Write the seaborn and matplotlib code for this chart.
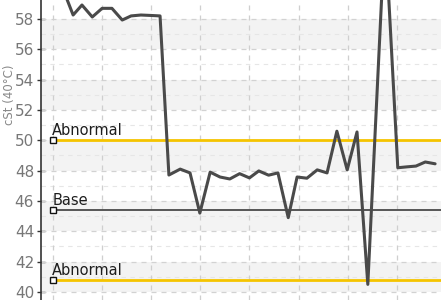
import matplotlib
matplotlib.use("Agg")
import matplotlib.pyplot as plt
import seaborn as sns
import pandas as pd
import numpy as np

# ---- data ----
sample_pos = [0.20, 0.41, 0.59, 0.80, 1.00, 1.20, 1.41, 1.59, 1.79, 2.00,
              2.18, 2.36, 2.59, 2.79, 2.99, 3.20, 3.40, 3.60, 3.80, 4.00,
              4.19, 4.39, 4.58, 4.79, 4.97, 5.17, 5.38, 5.58, 5.78, 5.99,
              6.19, 6.41, 6.76, 7.02, 7.21, 7.39, 7.58, 7.78]
viscosity = [60.0, 58.26, 58.92, 58.13, 58.70, 58.70, 57.93, 58.20, 58.26, 58.23,
             58.20, 47.71, 48.10, 47.85, 45.20, 47.90, 47.58, 47.45, 47.80, 47.52,
             47.98, 47.70, 47.85, 44.90, 47.58, 47.50, 48.05, 47.85, 50.60, 48.05,
             50.55, 40.50, 64.00, 48.19, 48.25, 48.30, 48.57, 48.45]
ref_names = ["Abnormal", "Base", "Abnormal"]
ref_values = [50.0, 45.4, 40.8]
ref_colors = ["#f5c400", "#555555", "#f5c400"]
y_ticks = [40, 42, 44, 46, 48, 50, 52, 54, 56, 58]
y_label = "cSt (40°C)"

df = pd.DataFrame({"pos": sample_pos, "cSt": viscosity})

sns.set_theme(style="white")
plt.rcParams["font.family"] = ["Liberation Sans Narrow", "DejaVu Sans"]

fig = plt.figure(figsize=(4.41, 3.0), dpi=100)
ax = fig.add_axes([41 / 441, 0.0, 400 / 441, 1.0])

ylo, yhi = 39.47, 59.25
ax.set_ylim(ylo, yhi)
ax.set_xlim(-0.244, 7.90)

# alternating bands
for lo in [40, 44, 48, 52, 56]:
    ax.axhspan(lo, lo + 2, color="#f3f3f3", zorder=0, lw=0)
# minor horizontal grid
for v in range(41, 59, 2):
    ax.axhline(v, color="#e6e6e6", lw=0.8, ls=(0, (4, 4)), zorder=0.5)
# major horizontal grid
for v in y_ticks:
    ax.axhline(v, color="#d2d2d2", lw=0.9, ls=(0, (4, 4)), zorder=0.6)
# vertical grid
for u in range(0, 8):
    ax.axvline(u, color="#cfcfcf", lw=0.9, ls=(0, (4, 4)), zorder=0.6)

# reference lines
for name, val, col in zip(ref_names, ref_values, ref_colors):
    lw = 2.0 if col != "#555555" else 1.4
    ax.plot([0, 8], [val, val], color=col, lw=lw, zorder=2, solid_capstyle="butt")
    ax.plot([0], [val], marker="s", ms=4.5, mfc="white", mec="#111111", mew=1.0,
            zorder=4, clip_on=False)
    ax.annotate(name, xy=(0, val), xytext=(-0.5, 3.8), textcoords="offset points",
                ha="left", va="baseline", fontsize=10.5, color="#1e1e1e", zorder=5)

sns.lineplot(data=df, x="pos", y="cSt", ax=ax, color="#4a4a4a", lw=2.2,
             zorder=3, estimator=None, sort=False)

ax.set_yticks(y_ticks)
ax.set_yticklabels([str(t) for t in y_ticks])
ax.tick_params(axis="y", direction="inout", length=6, width=1.0, color="#333333",
               labelsize=11, labelcolor="#777777", pad=2, left=True)
ax.set_xticks([])
ax.set_xlabel("")
ax.set_ylabel(y_label, fontsize=8.5, color="#888888")
ax.yaxis.set_label_coords(-0.062, 0.683)

for s in ["top", "right", "bottom"]:
    ax.spines[s].set_visible(False)
ax.spines["left"].set_color("#333333")
ax.spines["left"].set_linewidth(1.2)

fig.savefig("out.png", dpi=100)
